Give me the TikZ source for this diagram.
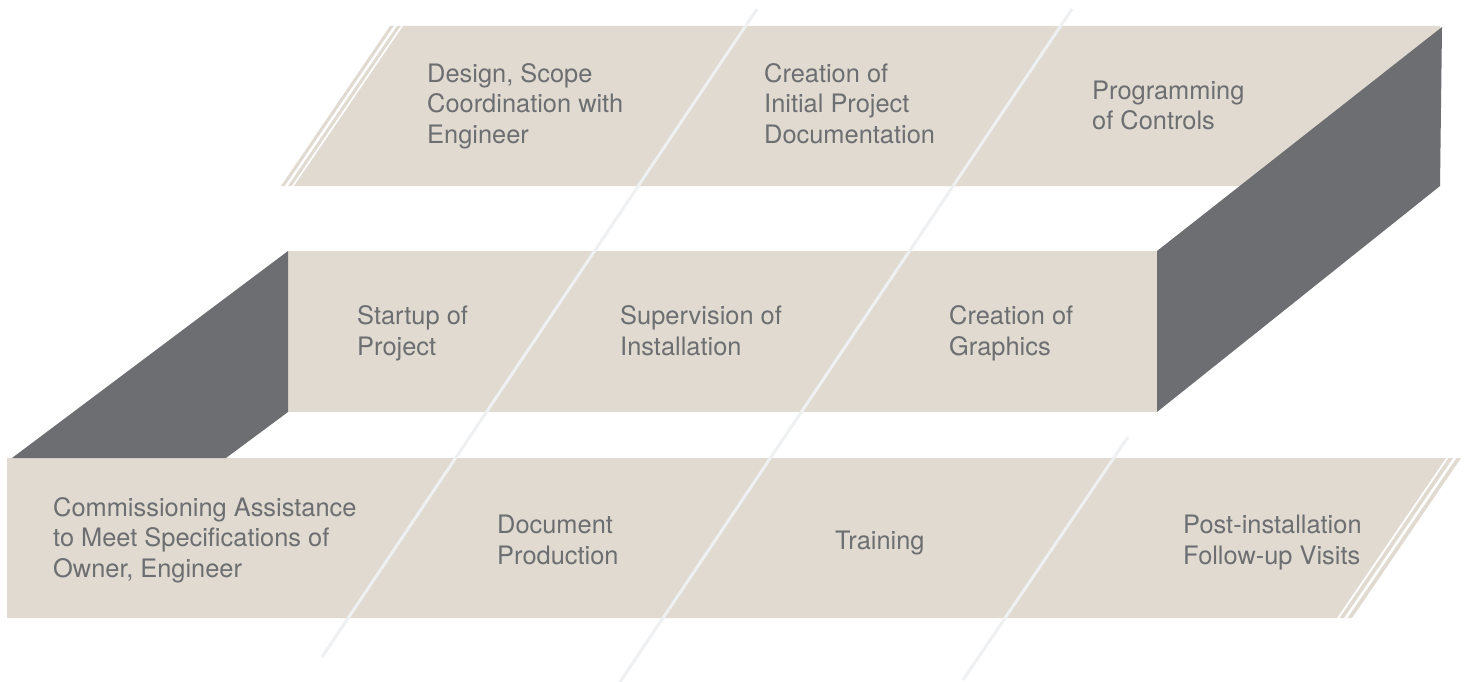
\documentclass[tikz,border=0pt]{standalone}
\usepackage{fontspec}
\setmainfont{TeX Gyre Heros}
\usetikzlibrary{positioning}
\definecolor{Sand}{HTML}{E0DAD1}
\definecolor{Slate}{HTML}{6D6E71}
\definecolor{Mist}{HTML}{EEF0F2}

\begin{document}
\begin{tikzpicture}[x=1pt,y=-1pt,
  txt/.style={anchor=base west,align=left,inner sep=0pt,text=Slate,font=\fontsize{25.4}{30.5}\selectfont}]
\useasboundingbox (0,0) rectangle (1466,682);
\fill[Sand] (403,26)--(1440,26)--(1440,186)--(294,186)--cycle;
\foreach \x in {390,397} \fill[Sand] (\x,26)--++(3.7,0)--++(-109,160)--++(-3.7,0)--cycle;
\fill[Sand] (288,251) rectangle (1157,412);
\fill[Sand] (7,458)--(1446,458)--(1337,618)--(7,618)--cycle;
\foreach \x in {1448.5,1456.5} \fill[Sand] (\x,458)--++(4.5,0)--++(-109,160)--++(-4.5,0)--cycle;
\fill[Slate] (1157,251)--(1442,27)--(1440,186)--(1157,412)--cycle;
\fill[Slate] (12,458)--(288,251)--(288,412)--(226,458)--cycle;
\foreach \a/\b in {{(757,9)}/{(322,657)},{(1072,9)}/{(620,682)},{(1128,437)}/{(963,680)}}
  \draw[Mist,line width=3pt] \a--\b;
\node[txt] (design) at (427,143) {Design, Scope\\Coordination with\\Engineer};
\node[txt] (initdoc) at (764,143) {Creation of\\Initial Project\\Documentation};
\node[txt] (prog) at (1092,130) {Programming\\of Controls};
\node[txt] (startup) at (357,355) {Startup of\\Project};
\node[txt] (superv) at (620,355) {Supervision of\\Installation};
\node[txt] (graphics) at (949,355) {Creation of\\Graphics};
\node[txt] (commiss) at (53,577) {Commissioning Assistance\\to Meet Specifications of\\Owner, Engineer};
\node[txt] (docprod) at (497,564) {Document\\Production};
\node[txt] (training) at (835,549) {Training};
\node[txt] (followup) at (1183,564) {Post-installation\\Follow-up Visits};
\end{tikzpicture}
\end{document}
